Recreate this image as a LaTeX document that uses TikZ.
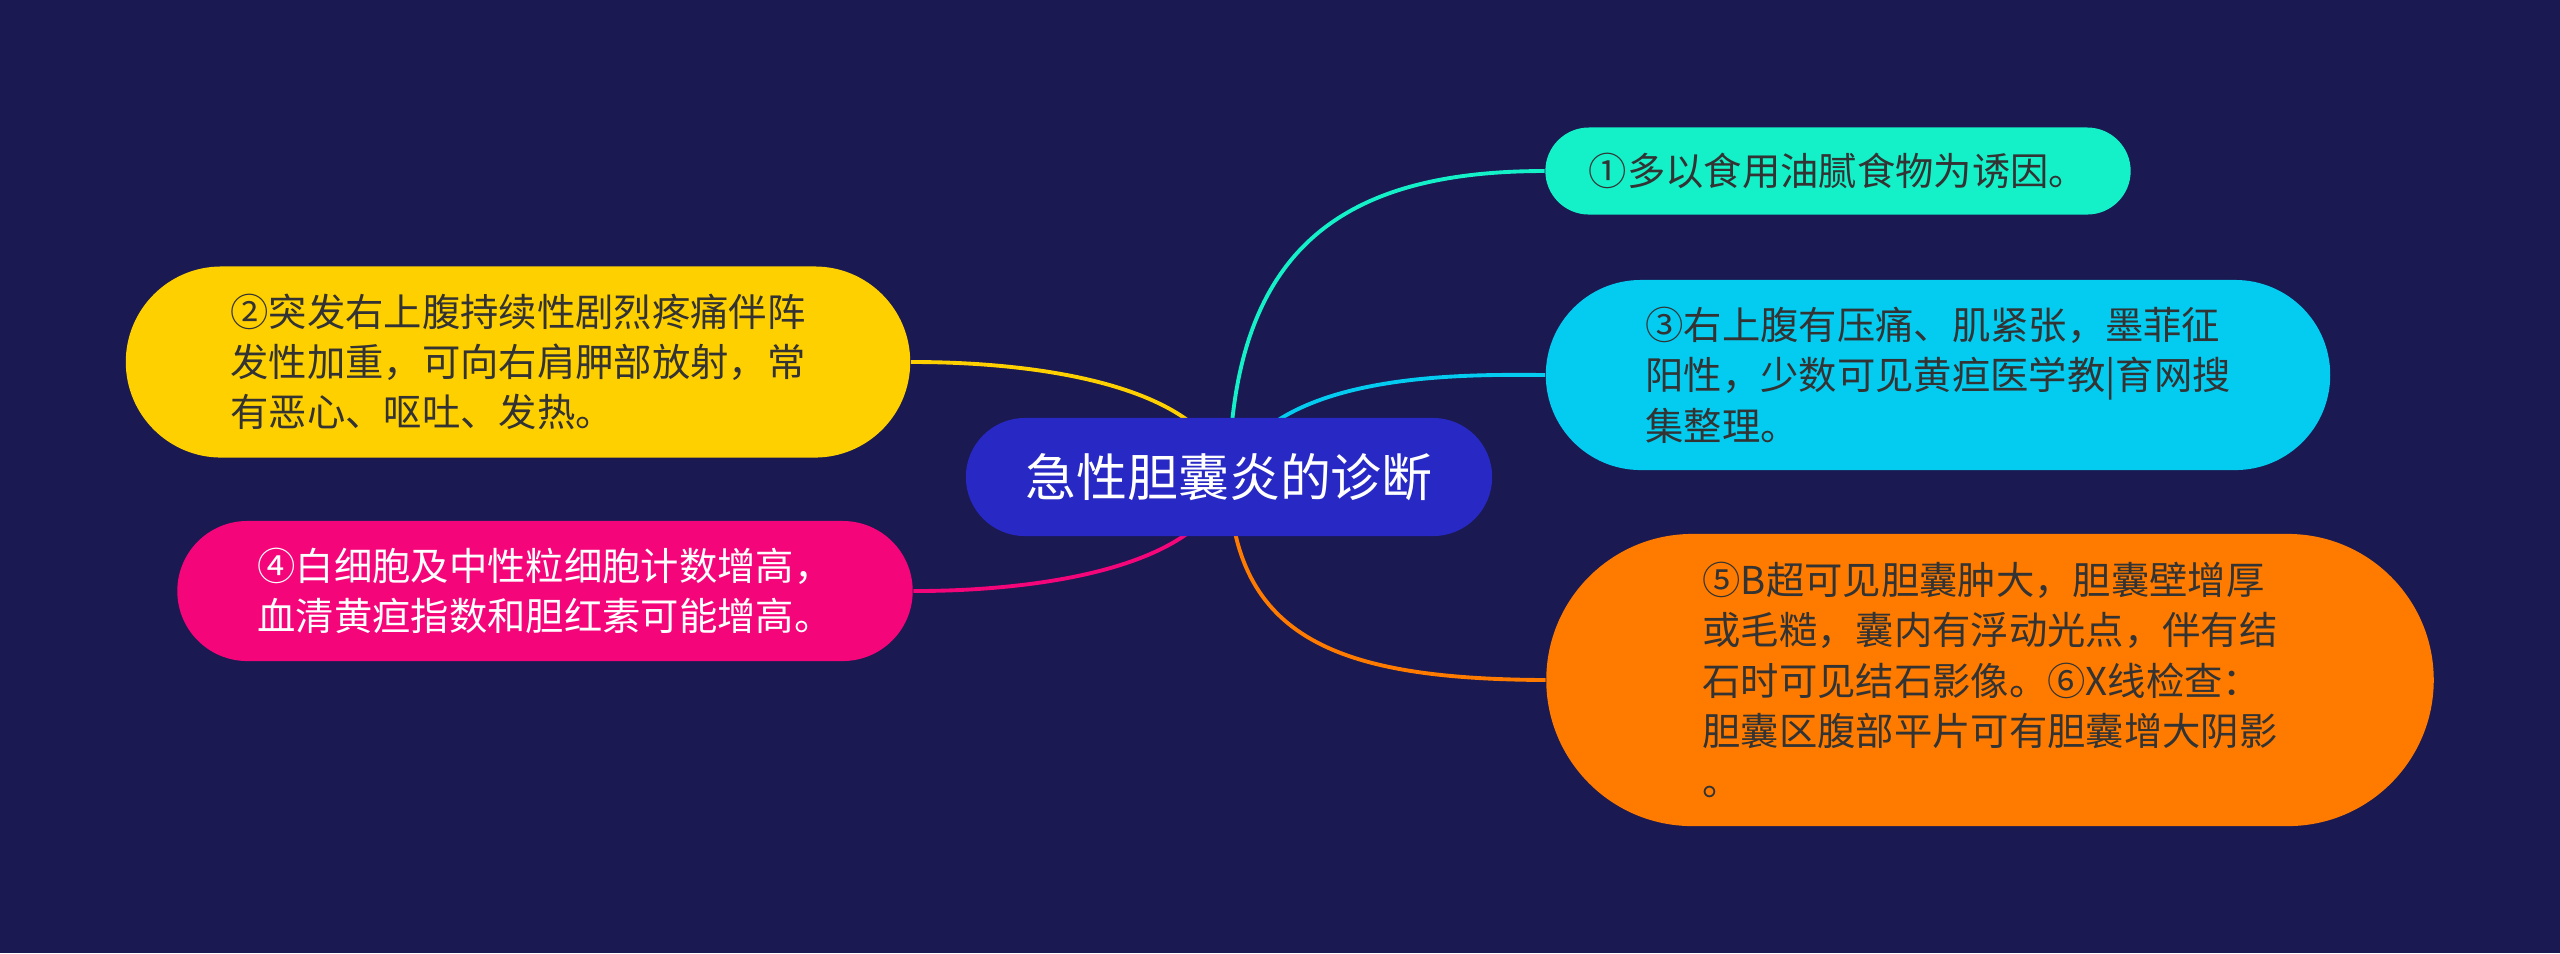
\documentclass[tikz,border=0pt]{standalone}
\usepackage{fontspec}
\setmainfont{Noto Sans CJK SC}
\definecolor{navy}{HTML}{1A1952}
\definecolor{rootblue}{HTML}{2828C4}
\definecolor{mint}{HTML}{14F0C8}
\definecolor{skyblue}{HTML}{04CBF0}
\definecolor{tangerine}{HTML}{FF7B00}
\definecolor{sun}{HTML}{FFD000}
\definecolor{rose}{HTML}{F5057A}
\definecolor{inkdark}{HTML}{333333}
\pgfdeclarelayer{bg}
\pgfdeclarelayer{edges}
\pgfsetlayers{bg,edges,main}

\begin{document}
\begin{tikzpicture}[x=0.01cm, y=-0.01cm,
    topic/.style={fill=rootblue, text=white, inner sep=0pt,
        font=\fontsize{14.5pt}{17pt}\selectfont},
    branch/.style={align=left, text=inkdark, inner sep=0pt,
        font=\fontsize{10.9pt}{14.3pt}\selectfont},
    link/.style={line width=1.1pt}]
    \useasboundingbox (0,0) rectangle (2560,953);

    \node[topic, minimum width=5.26cm, minimum height=1.18cm, rounded corners=0.59cm] (root) at (1229,477) {急性胆囊炎的诊断};

    \node[branch, fill=mint, minimum width=5.85cm, minimum height=0.87cm, rounded corners=0.435cm] (n1) at (1838,171) {①多以食用油腻食物为诱因。};
    \node[branch, fill=skyblue, minimum width=7.84cm, minimum height=1.9cm, rounded corners=0.95cm] (n3) at (1938,375) {③右上腹有压痛、肌紧张，墨菲征\\阳性，少数可见黄疸医学教|育网搜\\集整理。};
    \node[branch, fill=tangerine, minimum width=8.87cm, minimum height=2.92cm, rounded corners=1.46cm] (n5) at (1990,680) {⑤B超可见胆囊肿大，胆囊壁增厚\\或毛糙，囊内有浮动光点，伴有结\\石时可见结石影像。⑥X线检查：\\胆囊区腹部平片可有胆囊增大阴影\\。};
    \node[branch, fill=sun, minimum width=7.84cm, minimum height=1.91cm, rounded corners=0.955cm] (n2) at (518,362) {②突发右上腹持续性剧烈疼痛伴阵\\发性加重，可向右肩胛部放射，常\\有恶心、呕吐、发热。};
    \node[branch, fill=rose, text=white, minimum width=7.35cm, minimum height=1.4cm, rounded corners=0.7cm] (n4) at (545,591) {④白细胞及中性粒细胞计数增高，\\血清黄疸指数和胆红素可能增高。};

    \begin{pgfonlayer}{edges}
        \draw[link, mint] (root.center) .. controls (1232,250) and (1340,171) .. (n1.west);
        \draw[link, skyblue] (root.center) .. controls (1270,374) and (1450,374) .. (n3.west);
        \draw[link, tangerine] (root.center) .. controls (1232,640) and (1340,679) .. (n5.west);
        \draw[link, sun] (root.center) .. controls (1200,362) and (950,362) .. (n2.east);
        \draw[link, rose] (root.center) .. controls (1200,591) and (950,591) .. (n4.east);
    \end{pgfonlayer}

    \begin{pgfonlayer}{bg}
        \fill[navy] (0,0) rectangle (2560,953);
    \end{pgfonlayer}
\end{tikzpicture}
\end{document}
